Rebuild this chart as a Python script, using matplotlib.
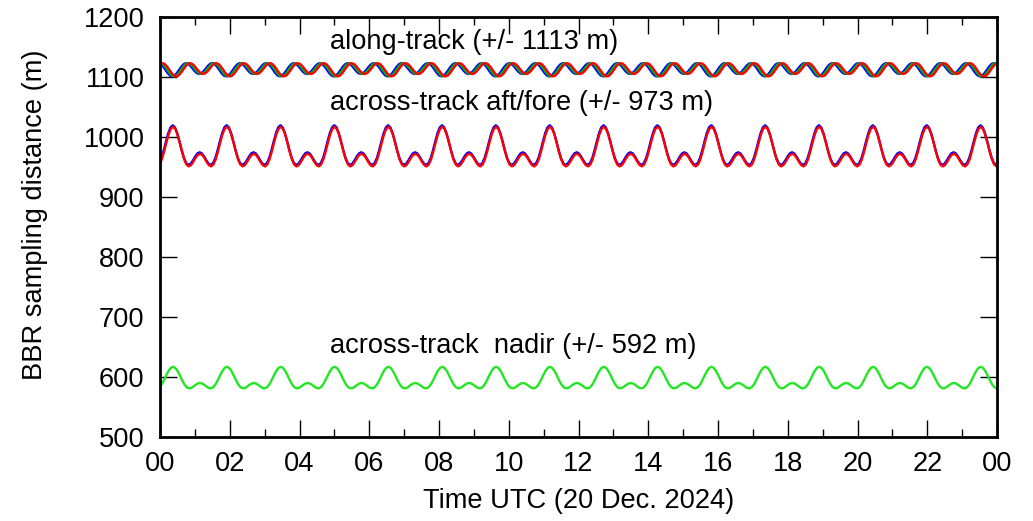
import numpy as np
import matplotlib
matplotlib.use("Agg")
import matplotlib.pyplot as plt

# orbit geometry (hours)
orbit_period_h = 1.544
first_peak_h = 0.373
orbit_index = np.arange(-1, 17)

# one orbit, 24 samples, starting at the across-track maximum (m)
along_track = [1101.0, 1102.4, 1106.3, 1111.6, 1117.0, 1121.1, 1123.0, 1122.2,
               1119.0, 1114.4, 1109.7, 1106.3, 1105.0, 1106.3, 1109.7, 1114.4,
               1119.0, 1122.2, 1123.0, 1121.1, 1117.0, 1111.6, 1106.3, 1102.4]
across_fore = [1019.5, 1016.0, 1006.4, 992.7, 978.0, 965.1, 956.6, 953.5,
               955.5, 960.9, 967.4, 972.6, 974.5, 972.6, 967.4, 960.9,
               955.5, 953.5, 956.6, 965.1, 978.0, 992.7, 1006.4, 1016.0]
across_aft = [1017.0, 1013.5, 1003.9, 990.2, 975.5, 962.6, 954.1, 951.0,
              953.0, 958.4, 964.9, 970.1, 972.0, 970.1, 964.9, 958.4,
              953.0, 951.0, 954.1, 962.6, 975.5, 990.2, 1003.9, 1013.5]
nadir = [617.0, 615.2, 610.1, 603.0, 595.1, 588.1, 583.3, 581.2,
         581.6, 583.9, 586.8, 589.1, 590.0, 589.1, 586.8, 583.9,
         581.6, 581.2, 583.3, 588.1, 595.1, 603.0, 610.1, 615.2]

# phase lag of each camera, fraction of an orbit
lag_along = {"blue": -0.014, "#00b400": 0.020, "red": 0.060}
lag_fore = -0.005
lag_aft = 0.0
lag_nadir = 0.0

hour_ticks = np.arange(0, 25, 2)
hour_labels = ["%02d" % (h % 24) for h in hour_ticks]


def orbit_curve(profile, lag):
    profile = np.asarray(profile)
    k = len(profile)
    phase = orbit_index[:, None] + np.arange(k)[None, :] / k + lag
    t = first_peak_h + orbit_period_h * phase.ravel()
    return t, np.tile(profile, len(orbit_index))


plt.rcParams['font.family'] = ['Liberation Sans', 'DejaVu Sans']
fig = plt.figure(figsize=(10.33, 5.21), dpi=100)
ax = fig.add_axes([0.1549, 0.1612, 0.9652 - 0.1549, 0.9674 - 0.1612])

lw = 1.7
for color, lag in lag_along.items():
    ax.plot(*orbit_curve(along_track, lag), color=color, lw=lw)
ax.plot(*orbit_curve(across_fore, lag_fore), color="blue", lw=lw)
ax.plot(*orbit_curve(across_aft, lag_aft), color="red", lw=lw)
ax.plot(*orbit_curve(nadir, lag_nadir), color="#22e622", lw=lw)

fs = 19.6
ax.text(4.87, 1158, "along-track (+/- 1113 m)", fontsize=fs, va="center")
ax.text(4.87, 1057, "across-track aft/fore (+/- 973 m)", fontsize=fs, va="center")
ax.text(4.87, 652, "across-track  nadir (+/- 592 m)", fontsize=fs, va="center")

ax.set_xlim(0, 24)
ax.set_ylim(500, 1200)
ax.set_xticks(hour_ticks)
ax.set_xticklabels(hour_labels)
ax.set_xticks(np.arange(1, 24, 2), minor=True)
ax.set_yticks(np.arange(500, 1201, 100))
ax.tick_params(which="both", direction="in", top=True, right=True,
               labelsize=fs, width=1)
ax.tick_params(which="major", length=12)
ax.tick_params(which="minor", length=6)
ax.tick_params(axis="x", pad=10)
ax.tick_params(axis="y", pad=11)
for s in ax.spines.values():
    s.set_linewidth(2.0)

ax.set_xlabel("Time UTC (20 Dec. 2024)", fontsize=fs, labelpad=8)
ax.set_ylabel("BBR sampling distance (m)", fontsize=fs)
ax.yaxis.set_label_coords(-0.134, 0.529)

fig.savefig("out.png", dpi=100)
